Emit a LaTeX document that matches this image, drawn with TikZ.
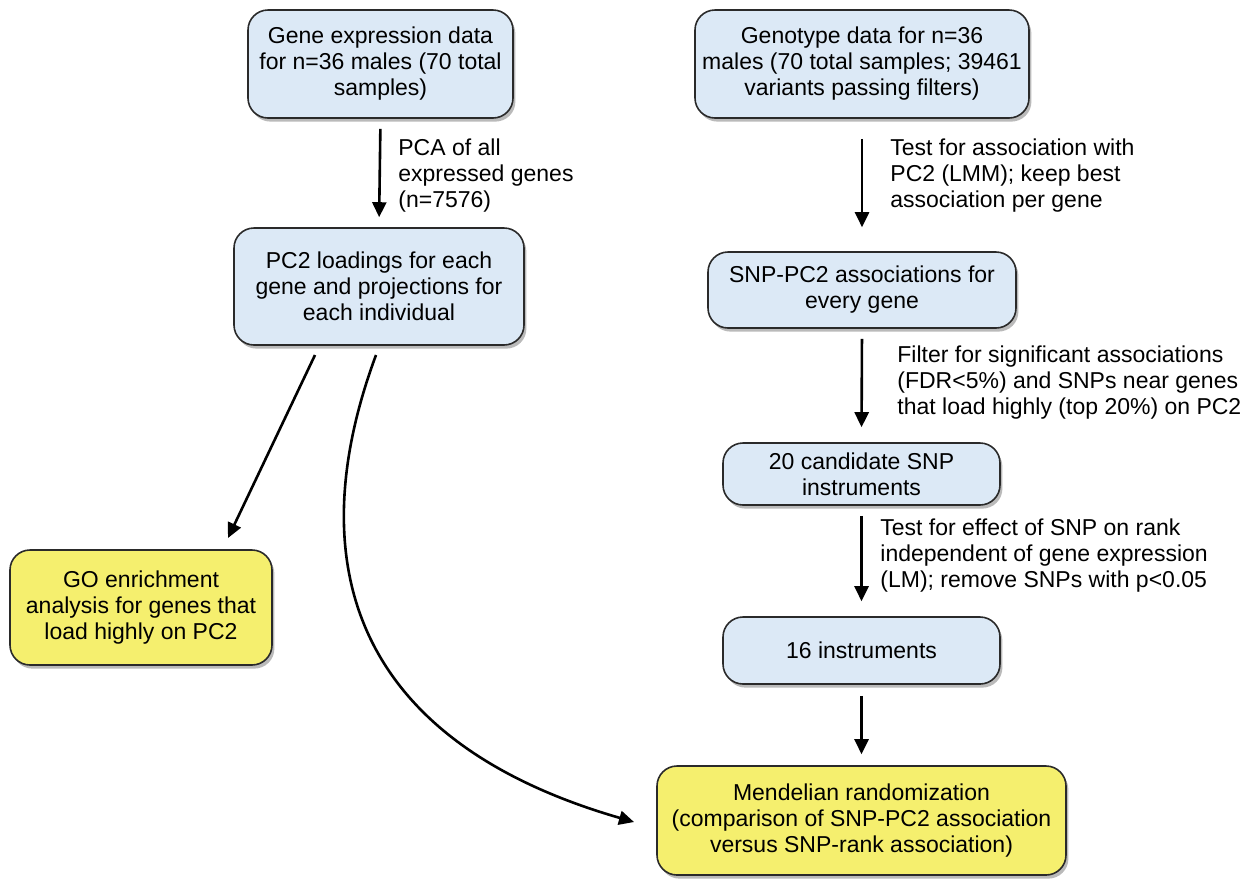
\documentclass[tikz,border=0pt]{standalone}
\usepackage{fontspec}
\setmainfont{Liberation Sans}
\usetikzlibrary{shadows,arrows.meta}
\definecolor{boxblue}{HTML}{DCE9F6}
\definecolor{boxyellow}{HTML}{F5EF6E}
\definecolor{boxline}{HTML}{2A2A2A}
\begin{document}
\begin{tikzpicture}[x=0.5pt,y=-0.5pt,
  font=\fontsize{11.5}{13}\selectfont,
  box/.style={draw=boxline, line width=0.8pt, rounded corners=10pt, align=center, inner sep=2pt,
    drop shadow={shadow xshift=1.2pt, shadow yshift=-1.8pt, opacity=0.45, fill=black!60}},
  bluebox/.style={box, fill=boxblue},
  yellowbox/.style={box, fill=boxyellow},
  arr/.style={line width=1.3pt, -{Triangle[length=7.5pt,width=7pt]}},
  lbl/.style={anchor=west, align=left, inner sep=0pt}]
\useasboundingbox (0,0) rectangle (1251,880);

\node[bluebox, minimum width=132.5pt, minimum height=54pt] (ge) at (380.5,64)
  {Gene expression data\\for n=36 males (70 total\\samples)};
\node[bluebox, minimum width=167pt, minimum height=54pt] (gt) at (862,64)
  {Genotype data for n=36\\males (70 total samples; 39461\\variants passing filters)};
\node[bluebox, minimum width=145pt, minimum height=58.5pt] (pc) at (379,286.5)
  {PC2 loadings for each\\gene and projections for\\each individual};
\node[bluebox, minimum width=154pt, minimum height=38pt] (snp) at (862,290)
  {SNP-PC2 associations for\\every gene};
\node[bluebox, minimum width=138.5pt, minimum height=31pt] (cand) at (861.5,474)
  {20 candidate SNP\\instruments};
\node[bluebox, minimum width=138.5pt, minimum height=33.5pt] (inst) at (861.5,650.5)
  {16 instruments};
\node[yellowbox, minimum width=131pt, minimum height=57.5pt] (go) at (141,607.5)
  {GO enrichment\\analysis for genes that\\load highly on PC2};
\node[yellowbox, minimum width=204.5pt, minimum height=54.5pt] (mr) at (861.5,820.5)
  {Mendelian randomization\\(comparison of SNP-PC2 association\\versus SNP-rank association)};

\draw[arr, shorten <=5pt, shorten >=5pt] (ge.south) -- (pc.north);
\draw[arr, shorten <=10pt, shorten >=12pt] (gt.south) -- (snp.north);
\draw[arr, shorten <=5pt, shorten >=7.5pt] (snp.south) -- (cand.north);
\draw[arr, shorten <=5pt, shorten >=7.5pt] (cand.south) -- (inst.north);
\draw[arr, shorten <=5.5pt, shorten >=5.5pt] (inst.south) -- (mr.north);

\coordinate (d1) at (315,355);
\coordinate (d2) at (228,538);
\draw[arr] (d1) -- (d2);
\coordinate (c1) at (376,355);
\coordinate (c2) at (634,822);
\draw[arr] (c1) .. controls (300,560) and (350,740) .. (c2);

\node[lbl] (l1) at (398,176) {PCA of all\\expressed genes\\(n=7576)};
\node[lbl] (l2) at (890,176) {Test for association with\\PC2 (LMM); keep best\\association per gene};
\node[lbl] (l3) at (897,383) {Filter for significant associations\\(FDR<5\%) and SNPs near genes\\that load highly (top 20\%) on PC2};
\node[lbl] (l4) at (880,556) {Test for effect of SNP on rank\\independent of gene expression\\(LM); remove SNPs with p<0.05};
\end{tikzpicture}
\end{document}
